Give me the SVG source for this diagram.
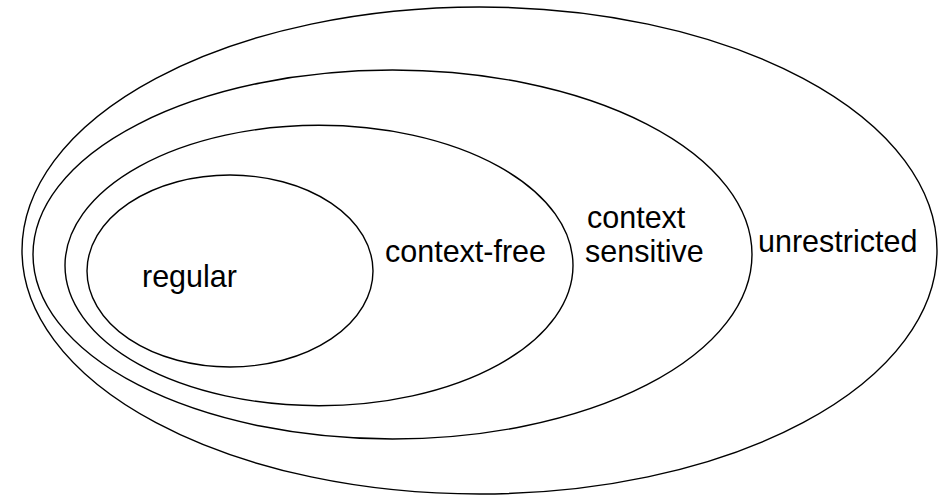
<svg xmlns="http://www.w3.org/2000/svg" width="949" height="498" viewBox="0 0 949 498">
<style>
ellipse{fill:none;stroke:#000;stroke-width:1.4}
text{font-family:"Liberation Sans",Arial,sans-serif;font-size:30.5px;fill:#000}
</style>
<rect width="949" height="498" fill="#fff"/>
<g id="unrestricted"><ellipse cx="479.5" cy="250.5" rx="457.5" ry="243.5"/><text x="758" y="252">unrestricted</text></g>
<g id="context-sensitive"><ellipse cx="392.5" cy="254.5" rx="359.5" ry="184.5"/><text x="587" y="228">context</text><text x="585" y="262">sensitive</text></g>
<g id="context-free"><ellipse cx="319" cy="265.5" rx="254" ry="140.2"/><text x="385" y="262">context-free</text></g>
<g id="regular"><ellipse cx="230" cy="271" rx="143" ry="96"/><text x="142" y="287">regular</text></g>
<g id="connectors"/>
</svg>
